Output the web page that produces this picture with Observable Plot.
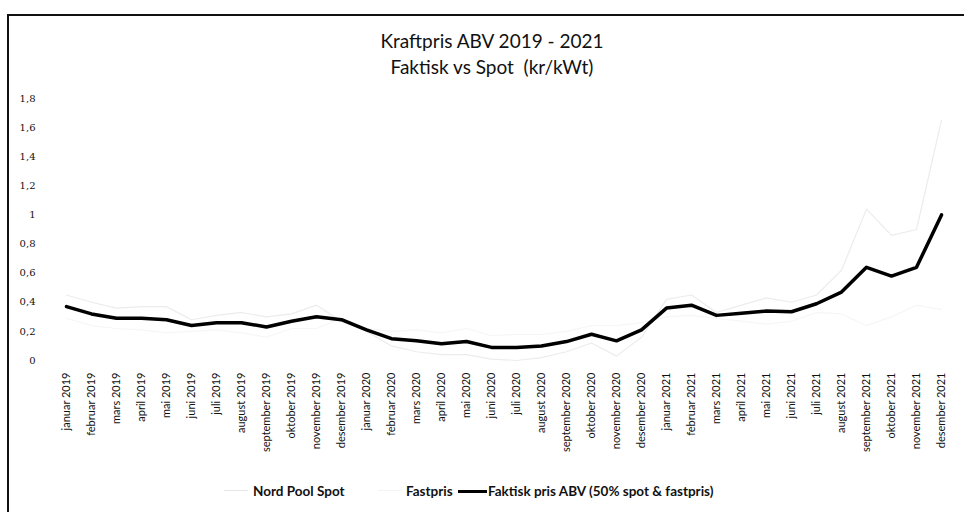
<!DOCTYPE html>
<html>
<head>
<meta charset="utf-8">
<script src="https://cdn.jsdelivr.net/npm/d3@7"></script>
<script src="https://cdn.jsdelivr.net/npm/@observablehq/plot@0.6"></script>
<style>
  html, body { margin: 0; padding: 0; background: #fff; }
  body { width: 964px; height: 512px; overflow: hidden; position: relative; font-family: Lato, "Open Sans", sans-serif; }
  #frame { position: absolute; left: 7px; top: 14px; width: 980px; height: 520px; border-left: 2px solid #111; border-top: 2px solid #111; box-sizing: border-box; }
  #title { position: absolute; left: 0; width: 984px; top: 28px; text-align: center; font-size: 19px; color: #111; line-height: 26px; }
  #chart { position: absolute; left: 0; top: 85px; }
  #legend { position: absolute; top: 482px; left: 0; width: 964px; height: 20px; font-size: 13.5px; font-weight: bold; color: #111; }
  .lg { position: absolute; top: 0; line-height: 18px; white-space: nowrap; }
  .sw { position: absolute; top: 8px; height: 0; }
</style>
</head>
<body>
<div id="frame"></div>
<div id="title">Kraftpris ABV 2019 - 2021<br>Faktisk vs Spot&nbsp;&nbsp;(kr/kWt)</div>
<div id="chart"></div>
<div id="legend">
  <div class="sw" style="left:224px;width:24px;border-top:1.5px solid #e6e6e6;"></div>
  <div class="lg" style="left:253px;">Nord Pool Spot</div>
  <div class="sw" style="left:378px;width:24px;border-top:1.5px solid #f4f4f4;"></div>
  <div class="lg" style="left:406px;">Fastpris</div>
  <div class="sw" style="left:458px;width:29px;border-top:3px solid #000;"></div>
  <div class="lg" style="left:488px;">Faktisk pris ABV (50% spot &amp; fastpris)</div>
</div>
<script>
const months = [
  "januar 2019","februar 2019","mars 2019","april 2019","mai 2019","juni 2019",
  "juli 2019","august 2019","september 2019","oktober 2019","november 2019","desember 2019",
  "januar 2020","februar 2020","mars 2020","april 2020","mai 2020","juni 2020",
  "juli 2020","august 2020","september 2020","oktober 2020","november 2020","desember 2020",
  "januar 2021","februar 2021","mars 2021","april 2021","mai 2021","juni 2021",
  "juli 2021","august 2021","september 2021","oktober 2021","november 2021","desember 2021"
];
const nordPoolSpot = [
  0.45,0.40,0.36,0.37,0.37,0.28,0.31,0.33,0.30,0.32,0.38,0.27,
  0.20,0.10,0.06,0.04,0.04,0.01,0.00,0.02,0.06,0.12,0.03,0.16,
  0.42,0.45,0.33,0.38,0.43,0.40,0.45,0.62,1.04,0.86,0.90,1.65
];
const fastpris = [
  0.29,0.24,0.22,0.21,0.19,0.20,0.21,0.19,0.16,0.22,0.22,0.29,
  0.22,0.20,0.21,0.19,0.22,0.17,0.18,0.18,0.20,0.24,0.24,0.26,
  0.30,0.31,0.29,0.27,0.25,0.27,0.33,0.32,0.24,0.30,0.38,0.35
];
const faktiskPris = [
  0.37,0.32,0.29,0.29,0.28,0.24,0.26,0.26,0.23,0.27,0.30,0.28,
  0.21,0.15,0.135,0.115,0.13,0.09,0.09,0.10,0.13,0.18,0.135,0.21,
  0.36,0.38,0.31,0.325,0.34,0.335,0.39,0.47,0.64,0.58,0.64,1.00
];
const yTicks = [0,0.2,0.4,0.6,0.8,1,1.2,1.4,1.6,1.8];

const rows = (vals, series) => months.map((m, i) => ({month: m, value: vals[i], series}));
const spotData = rows(nordPoolSpot, "Nord Pool Spot");
const fastData = rows(fastpris, "Fastpris");
const faktData = rows(faktiskPris, "Faktisk pris ABV (50% spot & fastpris)");

const chart = Plot.plot({
  width: 964,
  height: 390,
  marginLeft: 62,
  marginRight: 19,
  marginTop: 13,
  marginBottom: 115,
  style: {background: "transparent", color: "#111", overflow: "visible"},
  x: {type: "point", domain: months, padding: 0, label: null},
  y: {domain: [0, 1.8], label: null},
  marks: [
    Plot.axisY({ticks: yTicks, tickSize: 0, tickPadding: 27, label: null,
      tickFormat: d => String(d).replace(".", ","),
      fontFamily: "DejaVu Serif", fontSize: 10}),
    Plot.axisX({tickSize: 0, tickPadding: 12, tickRotate: -90, label: null,
      fontFamily: "Lato, 'Open Sans', sans-serif", fontSize: 11}),
    Plot.line(spotData, {x: "month", y: "value", stroke: "#ececec", strokeWidth: 1.2}),
    Plot.line(fastData, {x: "month", y: "value", stroke: "#f6f6f6", strokeWidth: 1.2}),
    Plot.line(faktData, {x: "month", y: "value", stroke: "#000", strokeWidth: 3.5, strokeLinejoin: "round"})
  ]
});
document.getElementById("chart").appendChild(chart);
</script>
</body>
</html>
